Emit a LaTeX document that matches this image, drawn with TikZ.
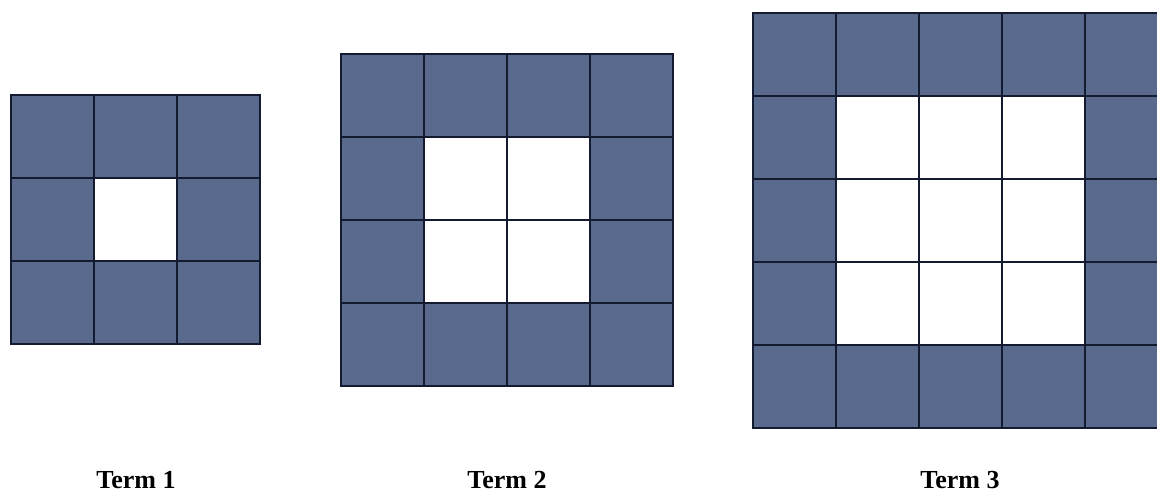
\documentclass[tikz,border=0pt]{standalone}
\usepackage{fontspec}
\setmainfont{Liberation Serif}
\definecolor{tile}{HTML}{5A6A8C}
\definecolor{edge}{HTML}{141A30}
\tikzset{
  cell/.style={fill=tile, draw=edge, line width=1.8pt},
  hole/.style={fill=white, draw=edge, line width=1.8pt},
  termlabel/.style={font=\bfseries\fontsize{26}{30}\selectfont, text=black, anchor=base, inner sep=0pt}
}
\begin{document}
\begin{tikzpicture}[x=1pt,y=1pt]
\useasboundingbox (0,0) rectangle (1157,493);
\begin{scope}
\clip (0,0) rectangle (1157,493);
% Term 1: 3x3, left 11, top 95
\foreach \i in {0,1,2}{\foreach \j in {0,1,2}{
  \pgfmathsetmacro{\inner}{(\i>0 && \i<2 && \j>0 && \j<2) ? 1 : 0}
  \ifdim\inner pt>0.5pt
    \draw[hole] (11+83*\i, 493-95-83*\j) rectangle ++(83,-83);
  \else
    \draw[cell] (11+83*\i, 493-95-83*\j) rectangle ++(83,-83);
  \fi
}}
% Term 2: 4x4, left 341, top 54
\foreach \i in {0,...,3}{\foreach \j in {0,...,3}{
  \pgfmathsetmacro{\inner}{(\i>0 && \i<3 && \j>0 && \j<3) ? 1 : 0}
  \ifdim\inner pt>0.5pt
    \draw[hole] (341+83*\i, 493-54-83*\j) rectangle ++(83,-83);
  \else
    \draw[cell] (341+83*\i, 493-54-83*\j) rectangle ++(83,-83);
  \fi
}}
% Term 3: 5x5, left 753, top 13
\foreach \i in {0,...,4}{\foreach \j in {0,...,4}{
  \pgfmathsetmacro{\inner}{(\i>0 && \i<4 && \j>0 && \j<4) ? 1 : 0}
  \ifdim\inner pt>0.5pt
    \draw[hole] (753+83*\i, 493-13-83*\j) rectangle ++(83,-83);
  \else
    \draw[cell] (753+83*\i, 493-13-83*\j) rectangle ++(83,-83);
  \fi
}}
\end{scope}
\node[termlabel] (t1) at (136,493-488) {Term 1};
\node[termlabel] (t2) at (507,493-488) {Term 2};
\node[termlabel] (t3) at (960,493-488) {Term 3};
\end{tikzpicture}
\end{document}
